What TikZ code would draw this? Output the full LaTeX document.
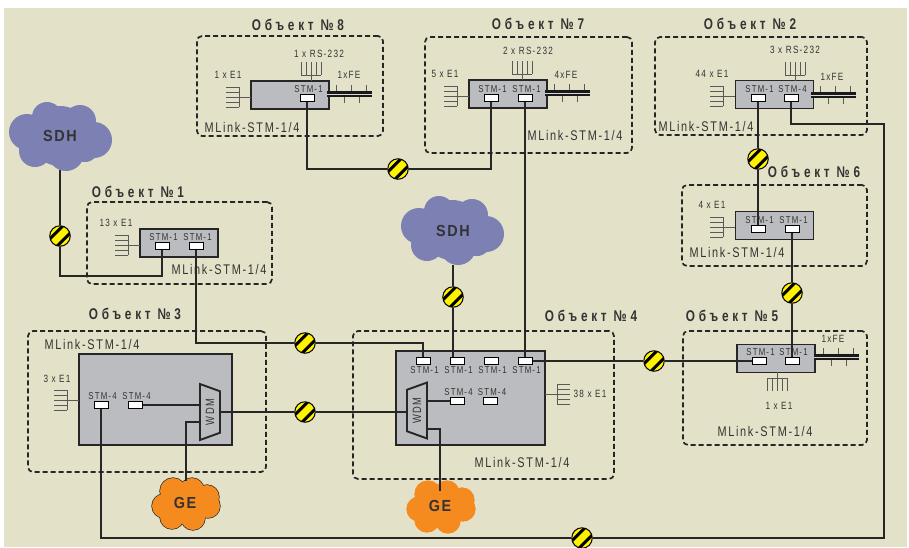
\documentclass[tikz,border=0pt]{standalone}
\usepackage{fontspec}
\setmainfont[FakeStretch=0.78,LetterSpace=12]{Liberation Sans}
\newfontfamily\titlefont[FakeStretch=0.76,LetterSpace=24]{Liberation Sans}
\newfontfamily\cloudfont[FakeStretch=0.9,LetterSpace=10]{Liberation Sans}
\usetikzlibrary{positioning,shapes.geometric}
\definecolor{paper}{HTML}{E3E2C8}
\definecolor{devgray}{HTML}{BBBCC0}
\definecolor{sdhblue}{HTML}{7C80B3}
\definecolor{georange}{HTML}{F58A1F}
\definecolor{hatyellow}{HTML}{FFF200}
\definecolor{inkgray}{HTML}{333333}
\tikzset{
  objbox/.style={draw=black!85,rounded corners=5pt,line width=1.7pt,dash pattern=on 5pt off 3pt},
  devbox/.style={draw=black!85,fill=devgray,line width=1.9pt,inner sep=0pt},
  port/.style={draw=black,fill=white,line width=1pt,minimum width=14pt,minimum height=7pt,inner sep=0pt},
  wire/.style={draw=black!85,line width=2pt},
  thin wire/.style={draw=black!65,line width=0.6pt},
  title lbl/.style={font=\titlefont\bfseries\fontsize{15.5}{15.5}\selectfont,text=inkgray,inner sep=0pt},
  model lbl/.style={font=\fontsize{14}{14}\selectfont,text=inkgray,inner sep=0pt},
  port lbl/.style={font=\fontsize{10}{10}\selectfont,text=inkgray,inner sep=0pt,xshift=1.5pt},
  size lbl/.style={font=\fontsize{10.5}{10.5}\selectfont,text=inkgray,inner sep=0pt},
  cloud lbl/.style={font=\cloudfont\bfseries\fontsize{16}{16}\selectfont,text=black!80,inner sep=0pt,
    minimum width=60pt},
  hat/.style={circle,draw=black,line width=1pt,fill=hatyellow,minimum size=20.5pt,inner sep=0pt,
    path picture={
      \foreach \k in {-3.6,3.6}
        \draw[black,line width=3pt] ([xshift=\k pt,yshift=-\k pt]path picture bounding box.south west)
          -- ([xshift=\k pt,yshift=-\k pt]path picture bounding box.north east);
    }},
  wdm/.style={trapezium,trapezium stretches=true,trapezium angle=61,draw=black!85,fill=devgray,line width=1.9pt,
    minimum width=56pt,minimum height=20pt,inner sep=0pt,rotate=90,text=inkgray,
    font=\fontsize{12}{12}\selectfont},
  comb/.pic={
    \draw[thin wire] (0,0) -- (-#1,0) (-#1,-10) -- (-#1,10);
    \foreach \k in {-10,-5,0,5,10}
      \draw[thin wire] (-#1,\k) -- (-#1-13,\k);
  },
  febus/.pic={
    \foreach \k in {9,24,39}
      \draw[thin wire,line width=0.8pt] (\k,0) -- (\k,-9);
    \foreach \k in {17,32}
      \draw[thin wire,line width=0.8pt] (\k,0) -- (\k,9);
    \draw[line width=2.3pt,black!90,double=white!85!black,double distance=1pt] (0,0) -- (45,0);
  },
  sdhblob/.pic={
    \foreach \a/\b/\r in {-13/-19/15,20/-15/16,-33/-4/18,34/4/18,-25/15/16,6/17/18,25/12/14,0/0/30,-14/3/24,14/3/24}
      \fill[sdhblue] (\a,\b) circle (\r pt);
  },
  geblob/.pic={
    \foreach \a/\b/\r in {-12/-12/13,7/-13/12,22/-6/12,-21/3/12,23/3/12,-13/14/12,8/15/12}
      \draw[#1,line width=1.3pt] (\a,\b) circle (\r pt);
    \foreach \a/\b/\r in {-12/-12/13,7/-13/12,22/-6/12,-21/3/12,23/3/12,-13/14/12,8/15/12,0/0/21}
      \fill[georange] (\a,\b) circle (\r pt);
  }
}
\begin{document}
\begin{tikzpicture}[x=1pt,y=-1pt]
\useasboundingbox (0,0) rectangle (909,547);
\fill[paper] (4,8) rectangle (907,547);

% dashed object frames
\node[objbox,minimum width=186pt,minimum height=100pt] (obj8) at (290,86) {};
\node[objbox,minimum width=207pt,minimum height=116pt] (obj7) at (528.5,95) {};
\node[objbox,minimum width=212pt,minimum height=98pt] (obj2) at (761,86) {};
\node[objbox,minimum width=185pt,minimum height=81pt] (obj6) at (774.5,225.5) {};
\node[objbox,minimum width=185pt,minimum height=82pt] (obj1) at (179.5,243) {};
\node[objbox,minimum width=238pt,minimum height=141pt] (obj3) at (147,401.5) {};
\node[objbox,minimum width=261pt,minimum height=148pt] (obj4) at (483.5,405) {};
\node[objbox,minimum width=184pt,minimum height=114pt] (obj5) at (775,388) {};

% titles
\node[title lbl] (t8) at (298,25) {Объект №8};
\node[title lbl] (t7) at (538,24) {Объект №7};
\node[title lbl] (t2) at (750,24) {Объект №2};
\node[title lbl] (t6) at (814,172) {Объект №6};
\node[title lbl] (t1) at (138,192) {Объект №1};
\node[title lbl] (t3) at (135,314) {Объект №3};
\node[title lbl] (t4) at (591,316) {Объект №4};
\node[title lbl] (t5) at (732,316) {Объект №5};

% devices
\node[devbox,minimum width=78pt,minimum height=28pt] (dev8) at (290,95) {};
\node[devbox,minimum width=78pt,minimum height=28pt] (dev7) at (508,94) {};
\node[devbox,minimum width=78pt,minimum height=28pt] (dev2) at (774.5,94.5) {};
\node[devbox,minimum width=78pt,minimum height=28pt] (dev6) at (774.5,225.5) {};
\node[devbox,minimum width=78pt,minimum height=28pt] (dev1) at (179,243) {};
\node[devbox,minimum width=153pt,minimum height=91pt] (dev3) at (155.5,399.5) {};
\node[devbox,minimum width=149pt,minimum height=94pt] (dev4) at (470.5,398) {};
\node[devbox,minimum width=78pt,minimum height=28pt] (dev5) at (776,358.5) {};

% wdm blocks
\node[wdm,shape border rotate=180] (wdm3) at (210,412) {WDM};
\node[wdm] (wdm4) at (417,410.5) {WDM};
\coordinate (w3a) at (200,405);
\coordinate (w3b) at (200,421.5);
\coordinate (w3c) at (220,412);
\coordinate (w4a) at (407,412);
\coordinate (w4b) at (427,401);
\coordinate (w4c) at (427,429);

% ports
\node[port] (p8a) at (307,98) {};
\node[port] (p7a) at (491,98) {};
\node[port] (p7b) at (525,98) {};
\node[port] (p2a) at (758,98) {};
\node[port] (p2b) at (791,98) {};
\node[port] (p6a) at (758,229) {};
\node[port] (p6b) at (792,229) {};
\node[port] (p1a) at (162,246) {};
\node[port] (p1b) at (196,246) {};
\node[port] (p3a) at (101,405) {};
\node[port] (p3b) at (135,405) {};
\node[port] (p4a) at (423,361) {};
\node[port] (p4b) at (457,361) {};
\node[port] (p4c) at (491,361) {};
\node[port] (p4d) at (525,361) {};
\node[port] (p4e) at (457,401) {};
\node[port] (p4f) at (490.5,401) {};
\node[port] (p5a) at (759,361) {};
\node[port] (p5b) at (792,361) {};

% port labels
\node[port lbl] [above=1.5pt of p8a] {STM-1};
\node[port lbl] [above=1.5pt of p7a] {STM-1};
\node[port lbl] [above=1.5pt of p7b] {STM-1};
\node[port lbl] [above=1.5pt of p2a] {STM-1};
\node[port lbl] [above=1.5pt of p2b] {STM-4};
\node[port lbl] [above=1.5pt of p6a] {STM-1};
\node[port lbl] [above=1.5pt of p6b] {STM-1};
\node[port lbl] [above=1.5pt of p1a] {STM-1};
\node[port lbl] [above=1.5pt of p1b] {STM-1};
\node[port lbl] [above=1.5pt of p3a] {STM-4};
\node[port lbl] [above=1.5pt of p3b] {STM-4};
\node[port lbl] [below=1.5pt of p4a] {STM-1};
\node[port lbl] [below=1.5pt of p4b] {STM-1};
\node[port lbl] [below=1.5pt of p4c] {STM-1};
\node[port lbl] [below=1.5pt of p4d] {STM-1};
\node[port lbl] [above=1.5pt of p4e] {STM-4};
\node[port lbl] [above=1.5pt of p4f] {STM-4};
\node[port lbl] [above=1.5pt of p5a] {STM-1};
\node[port lbl] [above=1.5pt of p5b] {STM-1};

% sizes and models
\node[size lbl] at (228,75) {1 x E1};
\node[size lbl] at (319,54) {1 x RS-232};
\node[size lbl] at (349,75) {1xFE};
\node[size lbl] at (445,74) {5 x E1};
\node[size lbl] at (528,51) {2 x RS-232};
\node[size lbl] at (566,75) {4xFE};
\node[size lbl] at (712,74) {44 x E1};
\node[size lbl] at (795,50) {3 x RS-232};
\node[size lbl] at (832,77) {1xFE};
\node[size lbl] at (712,205) {4 x E1};
\node[size lbl] at (116,223) {13 x E1};
\node[size lbl] at (57,379) {3 x E1};
\node[size lbl] at (590,394) {38 x E1};
\node[size lbl] at (833,339) {1xFE};
\node[size lbl] at (779,406) {1 x E1};
\node[model lbl] at (252,127) {MLink-STM-1/4};
\node[model lbl] at (575,135) {MLink-STM-1/4};
\node[model lbl] at (706,126) {MLink-STM-1/4};
\node[model lbl] at (737,252) {MLink-STM-1/4};
\node[model lbl] at (219,269) {MLink-STM-1/4};
\node[model lbl] at (92,344) {MLink-STM-1/4};
\node[model lbl] at (522,462) {MLink-STM-1/4};
\node[model lbl] at (765,431) {MLink-STM-1/4};

% combs and fe buses
\pic at (251,97) {comb=12};
\pic at (469,96) {comb=12};
\pic at (735,96) {comb=12};
\pic at (735,227) {comb=12};
\pic at (140,245) {comb=12};
\pic at (79,400) {comb=12};
\pic[rotate=180] at (545,394) {comb=12};
\pic[rotate=-90] at (311,81) {comb=6};
\pic[rotate=-90] at (522,80) {comb=6};
\pic[rotate=-90] at (795,81) {comb=6};
\pic[rotate=90] at (777,372) {comb=6};
\pic at (327,94) {febus};
\pic at (545,93) {febus};
\pic at (811,95) {febus};
\pic at (814,357) {febus};

% clouds and hatched circles
\pic at (60,136) {sdhblob};
\pic at (452,230) {sdhblob};
\pic at (185,503) {geblob=black!85};
\pic at (440,506) {geblob=georange};
\node[cloud lbl,minimum height=68pt] (sdhA) at (60,136) {SDH};
\node[cloud lbl,minimum height=68pt] (sdhB) at (453,231) {SDH};
\node[cloud lbl,minimum height=48pt] (geA) at (185,503) {GE};
\node[cloud lbl,minimum height=48pt] (geB) at (440,506) {GE};
\node[hat] (hatA) at (60,236) {};
\node[hat] (hatB) at (398,169) {};
\node[hat] (hatC) at (758,159) {};
\node[hat] (hatD) at (453,297) {};
\node[hat] (hatE) at (792,293) {};
\node[hat] (hatF) at (305,343) {};
\node[hat] (hatG) at (305,412) {};
\node[hat] (hatH) at (654,361) {};
\node[hat] (hatI) at (582,538) {};
\coordinate (jA) at (60,276);
\coordinate (jB) at (884,124);

% links
\path[draw,wire]
(sdhA) edge (hatA)
(sdhB) edge (hatD)
(p7b) edge (p4d)
(p2a) edge (hatC)
(hatC) edge (p6a)
(p6b) edge (hatE)
(hatE) edge (p5b)
(p4d) edge (hatH)
(hatH) edge (p5a)
(p3b) edge (w3a)
(w3c) edge (hatG)
(hatG) edge (w4a)
(w4b) edge (p4e);
\draw[wire] (hatA) -- (jA) -| (p1a);
\draw[wire] (p1b) |- (hatF);
\draw[wire] (hatF) -| (p4a);
\draw[wire] (p8a) |- (hatB);
\draw[wire] (hatB) -| (p7a);
\draw[wire] (hatD) -- (hatD |- p4b.north);
\draw[wire] (p2b) |- (jB) |- (hatI);
\draw[wire] (hatI) -| (p3a);
\draw[wire] (w3b) -| ([shift={(1,-2pt)}]geA.north);
\draw[wire] (w4c) -| ([yshift=-9pt]geB.north);
\end{tikzpicture}
\end{document}
